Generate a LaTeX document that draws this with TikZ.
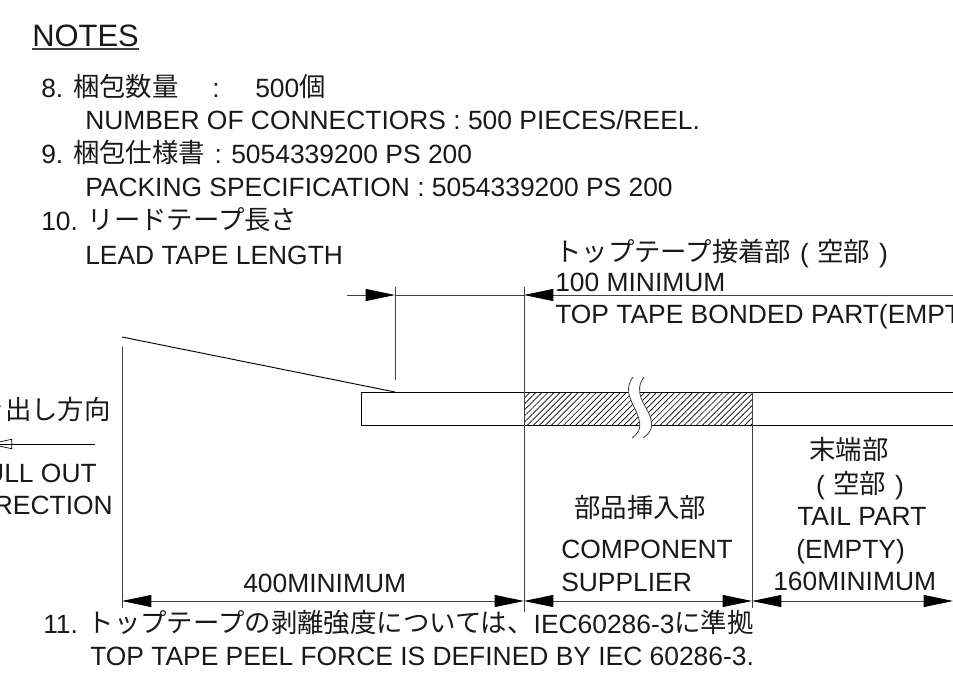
\documentclass[tikz,border=0pt]{standalone}
\usepackage{fontspec}
\usetikzlibrary{arrows.meta,patterns.meta}
\setmainfont{Liberation Sans}
\newfontfamily\cjk{Noto Sans CJK JP}
\newcommand{\jp}[1]{\raisebox{0.6pt}{\cjk #1}}
\newcommand{\cell}[1]{\makebox[19.7pt]{#1}}
\tikzset{
	txt/.style={anchor=base west,inner sep=0pt,font=\fontsize{19.8pt}{22pt}\selectfont,text=black!90},
	txtr/.style={txt,anchor=base east},
	dimline/.style={line width=0.6pt,draw=black!75},
	dimtip/.style={{Triangle[length=22pt,width=9pt,black]}-{Triangle[length=22pt,width=9pt,black]},line width=0.6pt,draw=black!75},
	tape/.style={line width=0.7pt,draw=black}
}
\begin{document}
\begin{tikzpicture}[x=0.75pt,y=-0.75pt]
	\useasboundingbox (0,0) rectangle (953,675);
	% notes
	\node[txt,font=\fontsize{23.2pt}{26pt}\selectfont] (notes) at (32,46) {NOTES};
	\node[txt] (n8) at (41,97) {8. \jp{梱包数量}};
	\node[txt] (n8b) at (212,97) {:};
	\node[txt] (n8c) at (255,97) {500\jp{個}};
	\node[txt] (n8e) at (85,129) {NUMBER OF CONNECTIORS : 500 PIECES/REEL.};
	\node[txt] (n9) at (41,163) {9. \jp{梱包仕様書}\cell{:}5054339200 PS 200};
	\node[txt] (n9e) at (85,196) {PACKING SPECIFICATION : 5054339200 PS 200};
	\node[txt] (n10) at (41,230) {10. \jp{リードテープ長さ}};
	\node[txt] (n10e) at (85,264) {LEAD TAPE LENGTH};
	\node[txt] (n11) at (43,633) {11. \jp{トップテープの剥離強度については、}IEC60286-3\jp{に準拠}};
	\node[txt] (n11e) at (90,665) {TOP TAPE PEEL FORCE IS DEFINED BY IEC 60286-3.};
	% labels
	\node[txt] (bondja) at (555,262) {\jp{トップテープ接着部}\cell{(}\jp{空部}\cell{)}};
	\node[txt] (bondmin) at (555,291) {100 MINIMUM};
	\node[txt] (bonden) at (555,323) {TOP TAPE BONDED PART(EMPTY)};
	\node[txtr] (pullja) at (111,420) {\jp{引き出し方向}};
	\node[txtr] (pullen) at (97,482) {PULL OUT};
	\node[txtr] (direc) at (113,514) {DIRECTION};
	\node[txt] (leadmin) at (243,592) {400MINIMUM};
	\node[txt] (compja) at (574,518) {\jp{部品挿入部}};
	\node[txt] (compen) at (561,558) {COMPONENT};
	\node[txt] (supp) at (561,591) {SUPPLIER};
	\node[txt] (tailja) at (809,460) {\jp{末端部}};
	\node[txt] (empja) at (807,494) {\cell{(}\jp{空部}\cell{)}};
	\node[txt] (tailen) at (797,525) {TAIL PART};
	\node[txt] (empen) at (796,558) {(EMPTY)};
	\node[txt] (tailmin) at (773,590) {160MINIMUM};
	% underline of the heading
	\coordinate (u0) at (32,49);
	\coordinate (u1) at (139,49);
	\draw[line width=1.3pt,draw=black!75] (u0) -- (u1);
	% tape
	\coordinate (tl) at (361,392);
	\coordinate (tr) at (953,392);
	\coordinate (bl) at (361,425);
	\coordinate (br) at (953,425);
	\fill[pattern={Lines[angle=45,distance=3.2pt,line width=0.5pt]}] (524,392) rectangle (752,425);
	\draw[tape] (tr) -- (tl) -- (bl) -- (br);
	% break in the tape
	\fill[white] (633,377) .. controls (622,392) and (634,404) .. (638,416) .. controls (641,426) and (641,431) .. (632,438)
		-- (643,438) .. controls (652,432) and (653,426) .. (650,416) .. controls (645,404) and (633,392) .. (644,377) -- cycle;
	\draw[dimline] (633,377) .. controls (622,392) and (634,404) .. (638,416) .. controls (641,426) and (641,431) .. (632,438);
	\draw[dimline] (644,377) .. controls (633,392) and (645,404) .. (650,416) .. controls (653,426) and (652,432) .. (643,438);
	% extension lines
	\coordinate (a0) at (122,347);
	\coordinate (a1) at (122,608);
	\coordinate (b0) at (395,287);
	\coordinate (b1) at (395,380);
	\coordinate (c0) at (524,287);
	\coordinate (c1) at (524,612);
	\coordinate (d0) at (752,392);
	\coordinate (d1) at (752,608);
	\foreach \p/\q in {a0/a1,b0/b1,c0/c1,d0/d1}
		\draw[dimline] (\p) -- (\q);
	\coordinate (lead0) at (122,337);
	\coordinate (lead1) at (395,392);
	\draw[line width=0.7pt] (lead0) -- (lead1);
	% dimensions
	\coordinate (t0) at (347,295);
	\coordinate (t1) at (395,295);
	\coordinate (t2) at (524,295);
	\coordinate (t3) at (953,295);
	\draw[dimline,-{Triangle[length=22pt,width=9pt,black]}] (t0) -- (t1);
	\draw[dimline] (t1) -- (t2);
	\draw[dimline,{Triangle[length=22pt,width=9pt,black]}-] (t2) -- (t3);
	\coordinate (m0) at (122,601);
	\coordinate (m1) at (524,601);
	\coordinate (m2) at (752,601);
	\coordinate (m3) at (953,601);
	\foreach \p/\q in {m0/m1,m1/m2,m2/m3}
		\draw[dimtip] (\p) -- (\q);
	% pull direction
	\coordinate (p0) at (95,444);
	\coordinate (p1) at (-12,444);
	\draw[line width=0.5pt,-{Triangle[open,length=18pt,width=7.5pt]}] (p0) -- (p1);
	\draw[line width=0.5pt] (p0) -- (p1);
\end{tikzpicture}
\end{document}
